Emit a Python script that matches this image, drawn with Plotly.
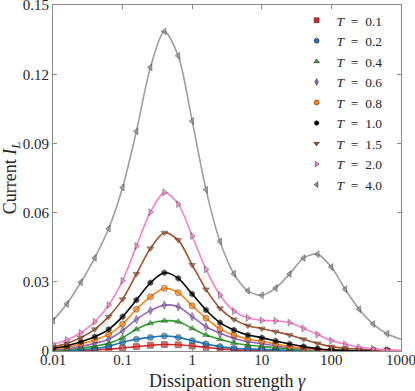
import plotly.graph_objects as go

# dissipation strength grid (markers every 0.2 decade, line runs on to 1000)
gamma = [0.01, 0.0158, 0.0251, 0.0398, 0.0631, 0.1, 0.158, 0.251, 0.398, 0.631,
         1.0, 1.58, 2.51, 3.98, 6.31, 10.0, 15.8, 25.1, 39.8, 63.1,
         100.0, 158.0, 251.0, 398.0, 631.0, 1000.0]

I_T01 = [0.0001, 0.0001, 0.0002, 0.0004, 0.0008, 0.0013, 0.0019, 0.0025, 0.0028, 0.0027,
         0.0022, 0.0016, 0.0009, 0.0005, 0.0003, 0.0002, 0.0001, 0.00006, 0.00004, 0.00003,
         0.00002, 0.00001, 0.00001, 0.00001, 0.00001, 0.00001]
I_T02 = [0.0002, 0.0003, 0.0005, 0.0011, 0.0021, 0.0038, 0.0051, 0.0059, 0.0065, 0.0059,
         0.0045, 0.0031, 0.0019, 0.0012, 0.0009, 0.0007, 0.0005, 0.0003, 0.0002, 0.0001,
         0.00006, 0.00004, 0.00003, 0.00002, 0.00001, 0.00001]
I_T04 = [0.0003, 0.0006, 0.0012, 0.0021, 0.0033, 0.0058, 0.0094, 0.0120, 0.0131, 0.0127,
         0.0098, 0.0069, 0.0051, 0.0035, 0.0026, 0.0020, 0.0014, 0.0009, 0.0005, 0.0003,
         0.0002, 0.0001, 0.00005, 0.00003, 0.00002, 0.00001]
I_T06 = [0.0005, 0.0010, 0.0020, 0.0033, 0.0051, 0.0088, 0.0137, 0.0175, 0.0199, 0.0192,
         0.0149, 0.0105, 0.0077, 0.0055, 0.0040, 0.0032, 0.0022, 0.0014, 0.0008, 0.0005,
         0.0003, 0.0001, 0.0001, 0.00005, 0.00003, 0.00002]
I_T08 = [0.0008, 0.0016, 0.0030, 0.0048, 0.0072, 0.0117, 0.0181, 0.0235, 0.0272, 0.0253,
         0.0196, 0.0142, 0.0095, 0.0069, 0.0051, 0.0042, 0.0030, 0.0019, 0.0012, 0.0007,
         0.0004, 0.0002, 0.0001, 0.0001, 0.0001, 0.00005]
I_T10 = [0.0012, 0.0022, 0.0040, 0.0062, 0.0094, 0.0149, 0.0221, 0.0296, 0.0339, 0.0315,
         0.0247, 0.0178, 0.0123, 0.0091, 0.0069, 0.0058, 0.0043, 0.0030, 0.0019, 0.0010,
         0.0005, 0.0003, 0.0002, 0.0001, 0.0001, 0.00005]
I_T15 = [0.0019, 0.0033, 0.0058, 0.0094, 0.0149, 0.0224, 0.0334, 0.0445, 0.0513, 0.0481,
         0.0373, 0.0267, 0.0185, 0.0137, 0.0110, 0.0097, 0.0084, 0.0069, 0.0051, 0.0033,
         0.0019, 0.0012, 0.0008, 0.0005, 0.0003, 0.0002]
I_T20 = [0.0029, 0.0048, 0.0079, 0.0127, 0.0199, 0.0305, 0.0455, 0.0602, 0.0688, 0.0637,
         0.0499, 0.0354, 0.0243, 0.0173, 0.0144, 0.0133, 0.0131, 0.0123, 0.0098, 0.0072,
         0.0045, 0.0029, 0.0016, 0.0010, 0.0004, 0.0002]
I_T40 = [0.0132, 0.0204, 0.0298, 0.0404, 0.0531, 0.0709, 0.0953, 0.1230, 0.1386, 0.1280,
         0.0997, 0.0700, 0.0475, 0.0335, 0.0261, 0.0242, 0.0273, 0.0334, 0.0403, 0.0420,
         0.0364, 0.0268, 0.0181, 0.0117, 0.0075, 0.0051]

labels = ["0.1", "0.2", "0.4", "0.6", "0.8", "1.0", "1.5", "2.0", "4.0"]
series = [I_T01, I_T02, I_T04, I_T06, I_T08, I_T10, I_T15, I_T20, I_T40]
colors = ["#d62728", "#1f77b4", "#2ca02c", "#9467bd", "#ff7f0e", "#000000",
          "#a0522d", "#f77fc8", "#9e9e9e"]
fills = ["#d62728", "#1f77b4", "#2ca02c", "#9467bd", "#ff7f0e", "#000000",
         "#a0522d", "#f77fc8", "#8c8c8c"]
symbols = ["square", "circle", "triangle-up", "diamond-tall", "circle", "hexagon",
           "triangle-down", "triangle-right", "triangle-left"]

x_ticks = [0.01, 0.1, 1, 10, 100, 1000]
x_ticktext = ["0.01", "0.1", "1", "10", "100", "1000"]
y_ticks = [0, 0.03, 0.06, 0.09, 0.12, 0.15]
y_ticktext = ["0", "0.03", "0.06", "0.09", "0.12", "0.15"]

fig = go.Figure()

# curves with markers (no marker on the final 1000 point)
sizes = [6] * (len(gamma) - 1) + [0]
for lab, ys, c, fc, sym in zip(labels, series, colors, fills, symbols):
    fig.add_trace(go.Scatter(x=gamma, y=ys, mode='lines+markers', showlegend=False,
                             line=dict(color=c, width=1.6, shape='spline', smoothing=0.8),
                             marker=dict(symbol=sym, size=sizes, color=fc,
                                         line=dict(color='#222222', width=0.6))))

# marker-only entries for the legend
for lab, c, fc, sym in zip(labels, colors, fills, symbols):
    fig.add_trace(go.Scatter(x=[None], y=[None], mode='markers',
                             name='<i>T</i>\u2002=\u2002' + lab,
                             marker=dict(symbol=sym, size=5, color=fc,
                                         line=dict(color='#222222', width=0.5))))

fig.update_layout(width=415, height=391,
                  plot_bgcolor="white", paper_bgcolor="white",
                  margin=dict(l=53, r=14, t=5, b=40),
                  font=dict(family="Liberation Serif", size=15, color="#262626"),
                  legend=dict(x=0.70, y=1.0, xanchor='left', yanchor='top',
                              bgcolor='rgba(0,0,0,0)', tracegroupgap=0,
                              font=dict(size=13.5)),
                  )

fig.update_xaxes(type='log', range=[-2, 3.0005], tickvals=x_ticks, ticktext=x_ticktext,
                 showgrid=False, zeroline=False, showline=True, linecolor='#8a8a8a',
                 linewidth=1, mirror='ticks', ticks='inside', ticklen=4,
                 tickcolor='#8a8a8a', ticklabeloverflow='allow', automargin=False,
                 ticklabelstandoff=-5,
                 title=dict(text='Dissipation strength <i>γ</i>', standoff=8))
fig.update_yaxes(range=[0, 0.15005], tickvals=y_ticks, ticktext=y_ticktext,
                 showgrid=False, zeroline=False, showline=True, linecolor='#8a8a8a',
                 linewidth=1, mirror='ticks', ticks='inside', ticklen=4,
                 tickcolor='#8a8a8a', ticklabeloverflow='allow', automargin=False,
                 title=dict(text='Current <i>I</i><sub><i>L</i></sub>', standoff=4))

# page body margin would shift the figure off the window
fig.write_html("out.html", config={'displayModeBar': False},
               post_script="document.body.style.margin='0px';")
